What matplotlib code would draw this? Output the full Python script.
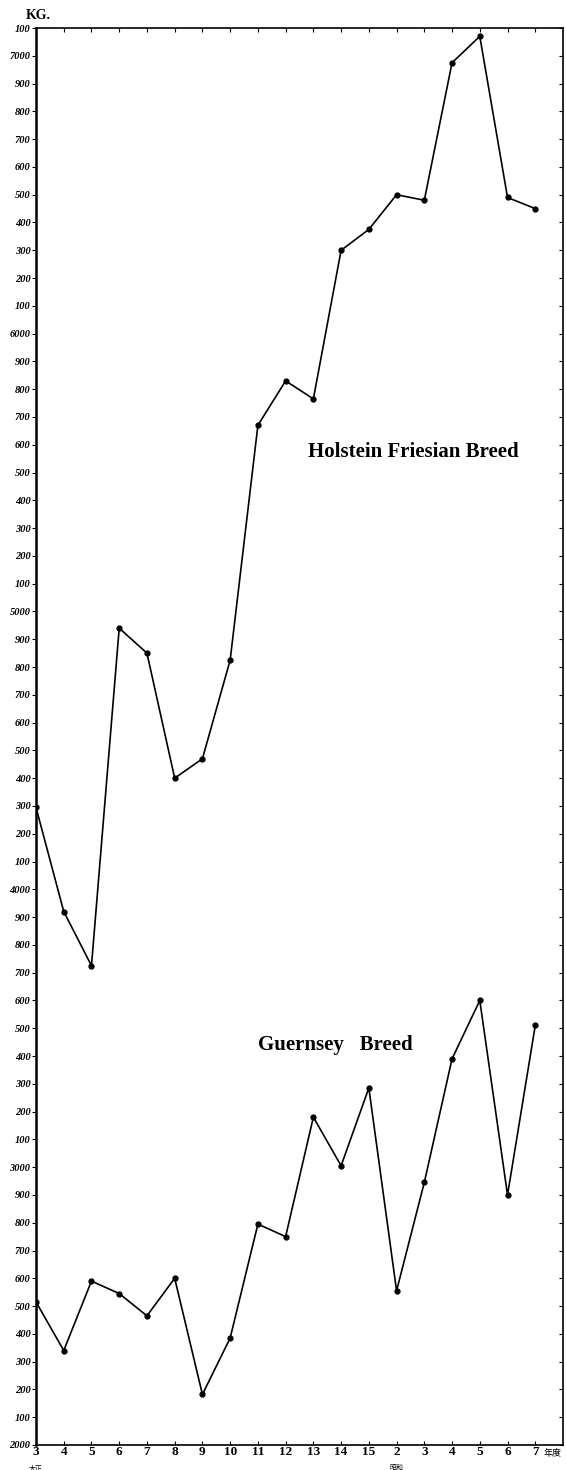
import numpy as np
import matplotlib
matplotlib.use("Agg")
import matplotlib.pyplot as plt

# ---- data ----
year_labels = ["3", "4", "5", "6", "7", "8", "9", "10", "11", "12", "13", "14", "15",
               "2", "3", "4", "5", "6", "7"]
holstein = [4295, 3920, 3725, 4940, 4850, 4400, 4470, 4825, 5670, 5830, 5765,
            6300, 6375, 6500, 6480, 6975, 7070, 6490, 6450]
guernsey = [2515, 2340, 2590, 2545, 2465, 2600, 2182, 2385, 2795, 2750, 3180,
            3005, 3285, 2555, 2945, 3390, 3600, 2900, 3510]
y_ticks = list(range(2000, 7101, 100))
y_tick_labels = [str(v) if v % 1000 == 0 else str(v % 1000) for v in y_ticks]
era_labels = {0: "大正", 13: "昭和"}

W, H = 566, 1470
fig = plt.figure(figsize=(W / 100, H / 100), dpi=100)
ax = fig.add_axes([36 / W, 1 - 1445 / H, (563 - 36) / W, (1445 - 28) / H])

x = np.arange(len(year_labels))
ax.plot(x, holstein, color="black", lw=1.2, marker="o", ms=3.5)
ax.plot(x, guernsey, color="black", lw=1.2, marker="o", ms=3.5)

ax.set_xlim(0, 19)
ax.set_ylim(2000, 7100)

ax.set_yticks(y_ticks)
ax.set_yticklabels(y_tick_labels, fontsize=7.5, fontweight="bold",
                   fontstyle="italic", family="Liberation Serif")
ax.tick_params(axis="y", which="both", direction="out", length=3, width=0.8,
               pad=1, right=True)
ax.set_xticks(x)
ax.set_xticklabels(year_labels, fontsize=9.5, fontweight="bold",
                   family="Liberation Serif")
ax.tick_params(axis="x", direction="in", length=3, width=0.8, pad=0.5, top=True)

for s in ["left", "right", "top", "bottom"]:
    ax.spines[s].set_linewidth(1.2)
ax.spines["left"].set_linewidth(1.8)

# right-side ticks inward
for t in ax.yaxis.get_major_ticks():
    t.tick2line.set_marker(matplotlib.lines.TICKLEFT)

# era labels
for i, lab in era_labels.items():
    ax.text(i, -0.0135, lab, transform=ax.get_xaxis_transform(), ha="center",
            va="top", fontsize=5, family=["Noto Sans CJK JP", "DejaVu Sans"])
ax.text(18.3, -0.003, "年度", transform=ax.get_xaxis_transform(), ha="left",
        va="top", fontsize=6.5, family=["Noto Sans CJK JP", "DejaVu Sans"])

ax.text(-0.35, 1.004, "KG.", transform=ax.get_xaxis_transform(),
        ha="left", va="bottom", fontsize=10, fontweight="bold", family="Liberation Serif")

ax.text(13.6, 5575, "Holstein Friesian Breed", ha="center", va="center",
        fontsize=15, fontweight="bold", family="Liberation Serif")
ax.text(10.8, 3440, "Guernsey   Breed", ha="center", va="center",
        fontsize=15, fontweight="bold", family="Liberation Serif")

fig.savefig("out.png", dpi=100)
